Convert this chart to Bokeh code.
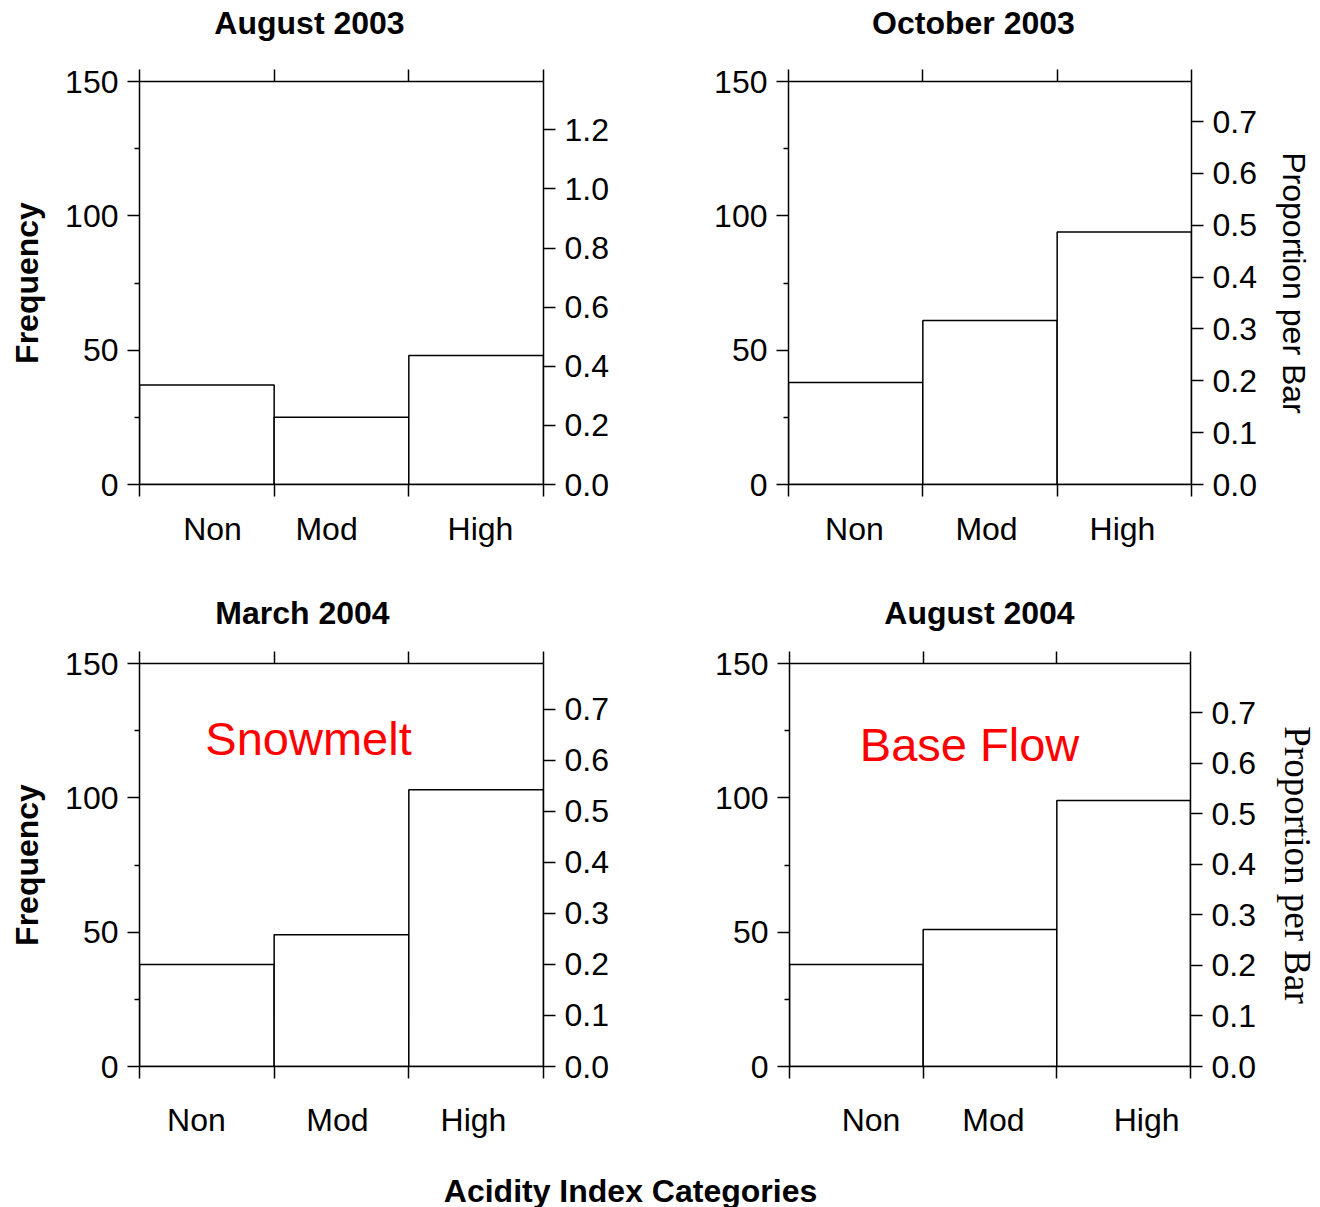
from bokeh.plotting import figure
from bokeh.models import Range1d, LinearAxis, FixedTicker, PrintfTickFormatter, Label
from bokeh.layouts import column, row
from bokeh.embed import file_html
from bokeh.resources import INLINE

# ---------------- data ----------------
categories = ["Non", "Mod", "High"]
panel_titles = ["August 2003", "October 2003", "March 2004", "August 2004"]
aug2003 = [37, 25, 48]
oct2003 = [38, 61, 94]
mar2004 = [38, 49, 103]
aug2004 = [38, 51, 99]
freq_ticks = [0, 50, 100, 150]
freq_minor_ticks = [25, 75, 125]
prop_ticks_aug2003 = [0.0, 0.2, 0.4, 0.6, 0.8, 1.0, 1.2]
prop_ticks_other = [0.0, 0.1, 0.2, 0.3, 0.4, 0.5, 0.6, 0.7]
notes = [None, None, "Snowmelt", "Base Flow"]
x_title = "Acidity Index Categories"
y_title = "Frequency"
y2_title = "Proportion per Bar"

SANS = "Liberation Sans"
SERIF = "Liberation Serif"
FREQ_MAX = 150


def make_panel(counts, prop_ticks, cfg):
    total = sum(counts)
    n = len(counts)
    bounds = list(range(n + 1))
    p = figure(width=cfg["w"], height=cfg["h"],
               min_border_left=cfg["l"], min_border_right=cfg["r"],
               min_border_top=cfg["t"], min_border_bottom=cfg["b"],
               x_range=Range1d(0, n), y_range=Range1d(0, FREQ_MAX),
               x_axis_type=None, y_axis_type=None,
               toolbar_location=None, output_backend="svg",
               outline_line_color=None, background_fill_color="white",
               border_fill_color="white")
    p.extra_y_ranges = {"prop": Range1d(0, FREQ_MAX / total)}

    lefts = bounds[:-1]
    rights = bounds[1:]
    p.quad(left=lefts, right=rights, bottom=[0] * n, top=counts,
           fill_color="white", line_color="black", line_width=1.5)

    # left frequency axis
    ya = LinearAxis(ticker=FixedTicker(ticks=freq_ticks, minor_ticks=freq_minor_ticks))
    ya.major_tick_out = 12
    ya.major_tick_in = 0
    ya.minor_tick_out = 5
    ya.minor_tick_in = 0
    ya.major_label_standoff = 9
    ya.major_label_text_font = SANS
    ya.major_label_text_font_size = "32px"
    if cfg["ylabel"]:
        ya.axis_label = y_title
        ya.axis_label_text_font = SANS
        ya.axis_label_text_font_style = "bold"
        ya.axis_label_text_font_size = "32px"
        ya.axis_label_text_color = "black"
        ya.axis_label_standoff = 17
    p.add_layout(ya, "left")

    # right proportion axis
    ra = LinearAxis(y_range_name="prop", ticker=FixedTicker(ticks=prop_ticks),
                    formatter=PrintfTickFormatter(format="%.1f"))
    ra.major_tick_out = 12
    ra.major_tick_in = 0
    ra.major_label_standoff = 9
    ra.major_label_text_font = SANS
    ra.major_label_text_font_size = "32px"
    if cfg["y2label"]:
        ra.axis_label = y2_title
        ra.axis_label_text_font = cfg["y2font"]
        ra.axis_label_text_font_style = "normal"
        ra.axis_label_text_font_size = cfg["y2size"]
        ra.axis_label_text_color = "black"
        ra.axis_label_standoff = cfg["y2standoff"]
    p.add_layout(ra, "right")

    # top axis: tick marks only, at bar boundaries (minor ticks => no labels)
    ta = LinearAxis(ticker=FixedTicker(ticks=[], minor_ticks=bounds))
    ta.minor_tick_out = 12
    ta.minor_tick_in = 0
    ta.major_label_standoff = 0
    p.add_layout(ta, "above")

    # bottom axis: tick marks (minor) at boundaries, labels at category positions
    pos = cfg["labelpos"]
    ba = LinearAxis(ticker=FixedTicker(ticks=pos, minor_ticks=bounds))
    ba.major_label_overrides = {v: c for v, c in zip(pos, categories)}
    ba.major_tick_out = 0
    ba.major_tick_in = 0
    ba.minor_tick_out = 12
    ba.minor_tick_in = 0
    ba.major_label_standoff = cfg["xstandoff"]
    ba.major_label_text_font = SANS
    ba.major_label_text_font_size = "32px"
    p.add_layout(ba, "below")

    for ax in (ya, ra, ta, ba):
        ax.axis_line_width = 1.5
        ax.axis_line_color = "black"
        ax.major_tick_line_width = 1.5
        ax.minor_tick_line_width = 1.5
        ax.minor_tick_line_color = "black"
        ax.major_label_text_color = "black"
    ra.minor_tick_line_color = None
    ba.major_tick_line_color = None

    if cfg["note"]:
        p.add_layout(Label(x=cfg["notexy"][0], y=cfg["notexy"][1], text=cfg["note"],
                           text_align="center", text_baseline="middle",
                           text_color="red", text_font=SANS, text_font_size="47px"))
    return p


def text_strip(height, items, size, style):
    """A blank 1320-wide strip whose data units equal pixels, holding labels."""
    s = figure(width=1320, height=height, x_range=Range1d(0, 1320), y_range=Range1d(height, 0),
               x_axis_type=None, y_axis_type=None, toolbar_location=None,
               output_backend="svg", outline_line_color=None,
               min_border_left=0, min_border_right=0, min_border_top=0, min_border_bottom=0)
    for txt, x, y, align in items:
        s.add_layout(Label(x=x, y=y, text=txt, text_align=align, text_baseline="middle",
                           text_font=SANS, text_font_style=style, text_font_size=size,
                           text_color="black"))
    return s


STRIP_H = 45
cfgA = dict(w=660, h=590 - STRIP_H, l=139, r=117, t=80 - STRIP_H, b=106, ylabel=True,
            y2label=False, labelpos=[0.542, 1.389, 2.532], xstandoff=14, note=None)
cfgB = dict(w=660, h=590 - STRIP_H, l=128, r=129, t=81 - STRIP_H, b=105, ylabel=False,
            y2label=True, y2font=SANS, y2size="32px", y2standoff=16,
            labelpos=[0.491, 1.474, 2.486], xstandoff=14, note=None)
cfgC = dict(w=660, h=560 - STRIP_H, l=139, r=117, t=73 - STRIP_H, b=84, ylabel=True,
            y2label=False, labelpos=[0.423, 1.470, 2.480], xstandoff=23,
            note=notes[2], notexy=(1.255, 122))
cfgD = dict(w=660, h=560 - STRIP_H, l=129, r=128, t=73 - STRIP_H, b=84, ylabel=False,
            y2label=True, y2font=SERIF, y2size="37px", y2standoff=18,
            labelpos=[0.610, 1.526, 2.672], xstandoff=23,
            note=notes[3], notexy=(1.347, 120))

pA = make_panel(aug2003, prop_ticks_aug2003, cfgA)
pB = make_panel(oct2003, prop_ticks_other, cfgB)
pC = make_panel(mar2004, prop_ticks_other, cfgC)
pD = make_panel(aug2004, prop_ticks_other, cfgD)

# panel titles (one strip per row) and the shared x-axis title
t1 = text_strip(STRIP_H, [(panel_titles[0], 309, 22, "center"),
                          (panel_titles[1], 973, 22, "center")], "32px", "bold")
t2 = text_strip(STRIP_H, [(panel_titles[2], 302, 22, "center"),
                          (panel_titles[3], 979, 22, "center")], "32px", "bold")
bottom = text_strip(57, [(x_title, 630, 40, "center")], "32px", "bold")

layout = column(t1, row(pA, pB), t2, row(pC, pD), bottom)
open("out.html", "w").write(file_html(layout, INLINE))
